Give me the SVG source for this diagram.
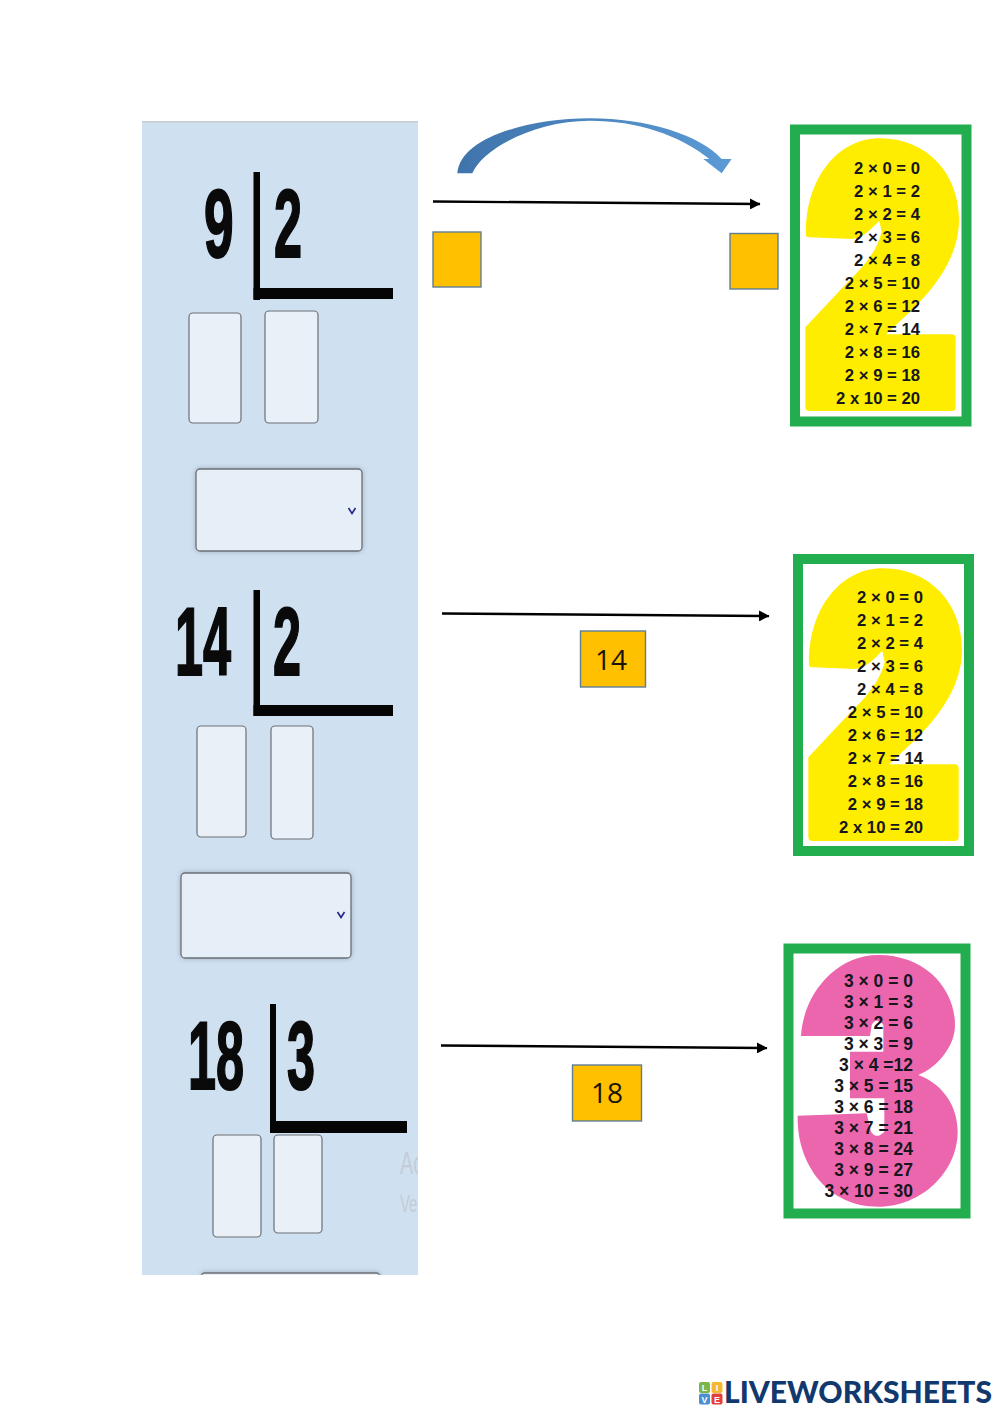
<svg xmlns="http://www.w3.org/2000/svg" width="1000" height="1413" viewBox="0 0 1000 1413">
<style>
.tb{font-family:"Liberation Sans",Arial,sans-serif;font-weight:700;font-size:16.7px;fill:#16161c;text-anchor:end}
.tc{font-size:17.5px}
.big{font-family:"Liberation Sans",Arial,sans-serif;font-weight:700;font-size:97px;fill:#0a0a0a;stroke:#0a0a0a;stroke-width:2}
.bar{fill:#050505}
.box{fill:#e9f0f8;stroke:#6c7075;stroke-width:1.2}
.dd{fill:#e6eef8;stroke:#6c7075;stroke-width:1.3;filter:url(#sh)}
.chev{fill:none;stroke:#23238c;stroke-width:1.6}
.sq{fill:#ffc000;stroke:#5d7f96;stroke-width:1.4}
.num{font-family:"Open Sans","Liberation Sans",sans-serif;font-size:28px;fill:#1a1408;text-anchor:middle}
.green{fill:#fff;stroke:#22ad4e;stroke-width:10}
.arr{fill:none;stroke:#000;stroke-width:2.4;marker-end:url(#ah)}
.ghost{font-family:"Liberation Sans",Arial,sans-serif;fill:#c3ccd6}
.lg{font-family:"Liberation Sans",Arial,sans-serif;font-weight:700;font-size:9px;fill:#fff;text-anchor:middle}
</style>
<defs>
<marker id="ah" markerUnits="userSpaceOnUse" markerWidth="11" markerHeight="11" refX="10" refY="5.500" orient="auto"><path d="M0,0L10.500,5.500L0,11Z" fill="#000"/></marker>
<filter id="sh" x="-10%" y="-15%" width="120%" height="130%"><feDropShadow dx="0" dy="0" stdDeviation="2.5" flood-color="#7d8794" flood-opacity=".6"/></filter>
<linearGradient id="bl" x1="0" x2="1" y1="0" y2="0"><stop offset="0" stop-color="#3f74ab"/><stop offset="1" stop-color="#5b9ad6"/></linearGradient>
<clipPath id="pc"><rect x="142" y="121" width="276" height="1154"/></clipPath>
<path id="two" d="M78,345C75,180 170,55 300,55C440,55 537,160 537,300C537,420 450,520 380,585L318,643L515,643Q527,643 527,655L527,860Q527,873 515,873L88,873Q76,873 76,860L76,622L200,490C240,450 290,400 305,335L298,303C280,320 250,355 215,357L90,352Q78,352 78,345Z" fill="#ffed00"/>
</defs>
<rect width="1000" height="1413" fill="#fff"/>
<g id="left-panel" clip-path="url(#pc)">
<rect x="142" y="121" width="276" height="1154" fill="#cfe0f1"/>
<rect x="142" y="121" width="276" height="1.5" fill="#c6cbd0"/>
<text class="ghost" transform="translate(400 1174) scale(.62 1)" font-size="32">Ac</text>
<text class="ghost" transform="translate(400 1212) scale(.62 1)" font-size="24">Ve</text>
</g>
<g id="division-9-2">
<text class="big" transform="translate(204 257) scale(.55 1)">9</text>
<text class="big" transform="translate(274 257) scale(.52 1)">2</text>
<rect class="bar" x="253.500" y="172" width="6.500" height="128"/>
<rect class="bar" x="253.500" y="288" width="139.500" height="11"/>
<rect class="box" x="189" y="313" width="52" height="110" rx="4"/>
<rect class="box" x="265" y="311" width="53" height="112" rx="4"/>
<rect class="dd" x="196" y="469" width="166" height="82" rx="4"/>
<polyline class="chev" points="348.500,508 352,513.500 355.500,508"/>
</g>
<g id="division-14-2">
<text class="big" transform="translate(175 675) scale(.52 1)">14</text>
<text class="big" transform="translate(273 675) scale(.52 1)">2</text>
<rect class="bar" x="253.500" y="590" width="6.500" height="126"/>
<rect class="bar" x="253.500" y="705" width="139.500" height="11"/>
<rect class="box" x="197" y="726" width="49" height="111" rx="4"/>
<rect class="box" x="271" y="726" width="42" height="113" rx="4"/>
<rect class="dd" x="181" y="873" width="170" height="85" rx="4"/>
<polyline class="chev" points="337.500,912 341,917.500 344.500,912"/>
</g>
<g id="division-18-3">
<text class="big" transform="translate(188 1089) scale(.52 1)">18</text>
<text class="big" transform="translate(287 1089) scale(.52 1)">3</text>
<rect class="bar" x="270" y="1004" width="6" height="129"/>
<rect class="bar" x="270" y="1121" width="137" height="12"/>
<rect class="box" x="213" y="1135" width="48" height="102" rx="4"/>
<rect class="box" x="274" y="1135" width="48" height="98" rx="4"/>
<g clip-path="url(#pc)"><rect class="dd" x="201" y="1273" width="179" height="60" rx="4"/></g>
</g>
<g id="curved-arrow">
<path transform="translate(420 105) scale(.33333)" d="M112,205C120,100 320,40 510,40C680,40 840,90 905,162L935,162L905,205L850,162L868,162C780,90 650,47 510,47C340,47 185,135 157,205Z" fill="url(#bl)"/>
</g>
<g id="connectors">
<path class="arr" d="M433,201.500L760,204"/>
<path class="arr" d="M442,613.500L769,616"/>
<path class="arr" d="M441,1045.500L767,1048"/>
</g>
<g id="answer-boxes">
<rect class="sq" x="433" y="232" width="48" height="55"/>
<rect class="sq" x="730" y="233.500" width="48" height="55.500"/>
<g id="box-14"><rect class="sq" x="580.500" y="631" width="65" height="56"/><text class="num" x="611" y="670">14</text></g>
<g id="box-18"><rect class="sq" x="572.500" y="1065" width="69" height="56"/><text class="num" x="607" y="1103">18</text></g>
</g>
<g id="table-2a">
<rect class="green" x="795" y="129.500" width="171.500" height="292"/>
<use href="#two" transform="translate(780 120) scale(.33333)"/>
<g class="tb">
<text x="920" y="173.500">2 × 0 = 0</text>
<text x="920" y="196.500">2 × 1 = 2</text>
<text x="920" y="219.500">2 × 2 = 4</text>
<text x="920" y="242.500">2 × 3 = 6</text>
<text x="920" y="265.500">2 × 4 = 8</text>
<text x="920" y="288.500">2 × 5 = 10</text>
<text x="920" y="311.500">2 × 6 = 12</text>
<text x="920" y="334.500">2 × 7 = 14</text>
<text x="920" y="357.500">2 × 8 = 16</text>
<text x="920" y="380.500">2 × 9 = 18</text>
<text x="920" y="403.500">2 x 10 = 20</text>
</g>
</g>
<g id="table-2b">
<rect class="green" x="798" y="559" width="171" height="292"/>
<use href="#two" transform="translate(783 550) scale(.33333)"/>
<g class="tb">
<text x="923" y="603">2 × 0 = 0</text>
<text x="923" y="626">2 × 1 = 2</text>
<text x="923" y="649">2 × 2 = 4</text>
<text x="923" y="672">2 × 3 = 6</text>
<text x="923" y="695">2 × 4 = 8</text>
<text x="923" y="718">2 × 5 = 10</text>
<text x="923" y="741">2 × 6 = 12</text>
<text x="923" y="764">2 × 7 = 14</text>
<text x="923" y="787">2 × 8 = 16</text>
<text x="923" y="810">2 × 9 = 18</text>
<text x="923" y="833">2 x 10 = 20</text>
</g>
</g>
<g id="table-3">
<rect class="green" x="788.500" y="948.500" width="177" height="265"/>
<path transform="translate(775 935) scale(.33333)" d="M78,303C85,180 180,60 310,60C450,60 540,160 540,270C540,340 480,400 430,420C510,450 548,520 548,590C548,710 440,815 310,815C160,815 65,690 68,542L275,535L288,590Q305,615 328,590L328,490L225,490L225,350L325,350L325,270Q305,245 290,270L285,303Z" fill="#ec66ae"/>
<g class="tb tc">
<text x="913" y="987">3 × 0 = 0</text>
<text x="913" y="1008">3 × 1 = 3</text>
<text x="913" y="1029">3 × 2 = 6</text>
<text x="913" y="1050">3 × 3 = 9</text>
<text x="913" y="1071">3 × 4 =12</text>
<text x="913" y="1092">3 × 5 = 15</text>
<text x="913" y="1113">3 × 6 = 18</text>
<text x="913" y="1134">3 × 7 = 21</text>
<text x="913" y="1155">3 × 8 = 24</text>
<text x="913" y="1176">3 × 9 = 27</text>
<text x="913" y="1197">3 × 10 = 30</text>
</g>
</g>
<g id="logo">
<rect x="699" y="1382" width="11" height="11" rx="2" fill="#7ab648"/>
<rect x="711.500" y="1382" width="11" height="11" rx="2" fill="#f4b92f"/>
<rect x="699" y="1393.500" width="11" height="11" rx="2" fill="#4c8fd0"/>
<rect x="711.500" y="1393.500" width="11" height="11" rx="2" fill="#e0413a"/>
<text class="lg" x="704.500" y="1391">L</text>
<text class="lg" x="717" y="1391">I</text>
<text class="lg" x="704.500" y="1402.500">V</text>
<text class="lg" x="717" y="1402.500">E</text>
<text x="724" y="1403" font-family="Lato,'Liberation Sans',sans-serif" font-weight="900" font-size="30" fill="#12396e" textLength="268" lengthAdjust="spacingAndGlyphs">LIVEWORKSHEETS</text>
</g>
</svg>
